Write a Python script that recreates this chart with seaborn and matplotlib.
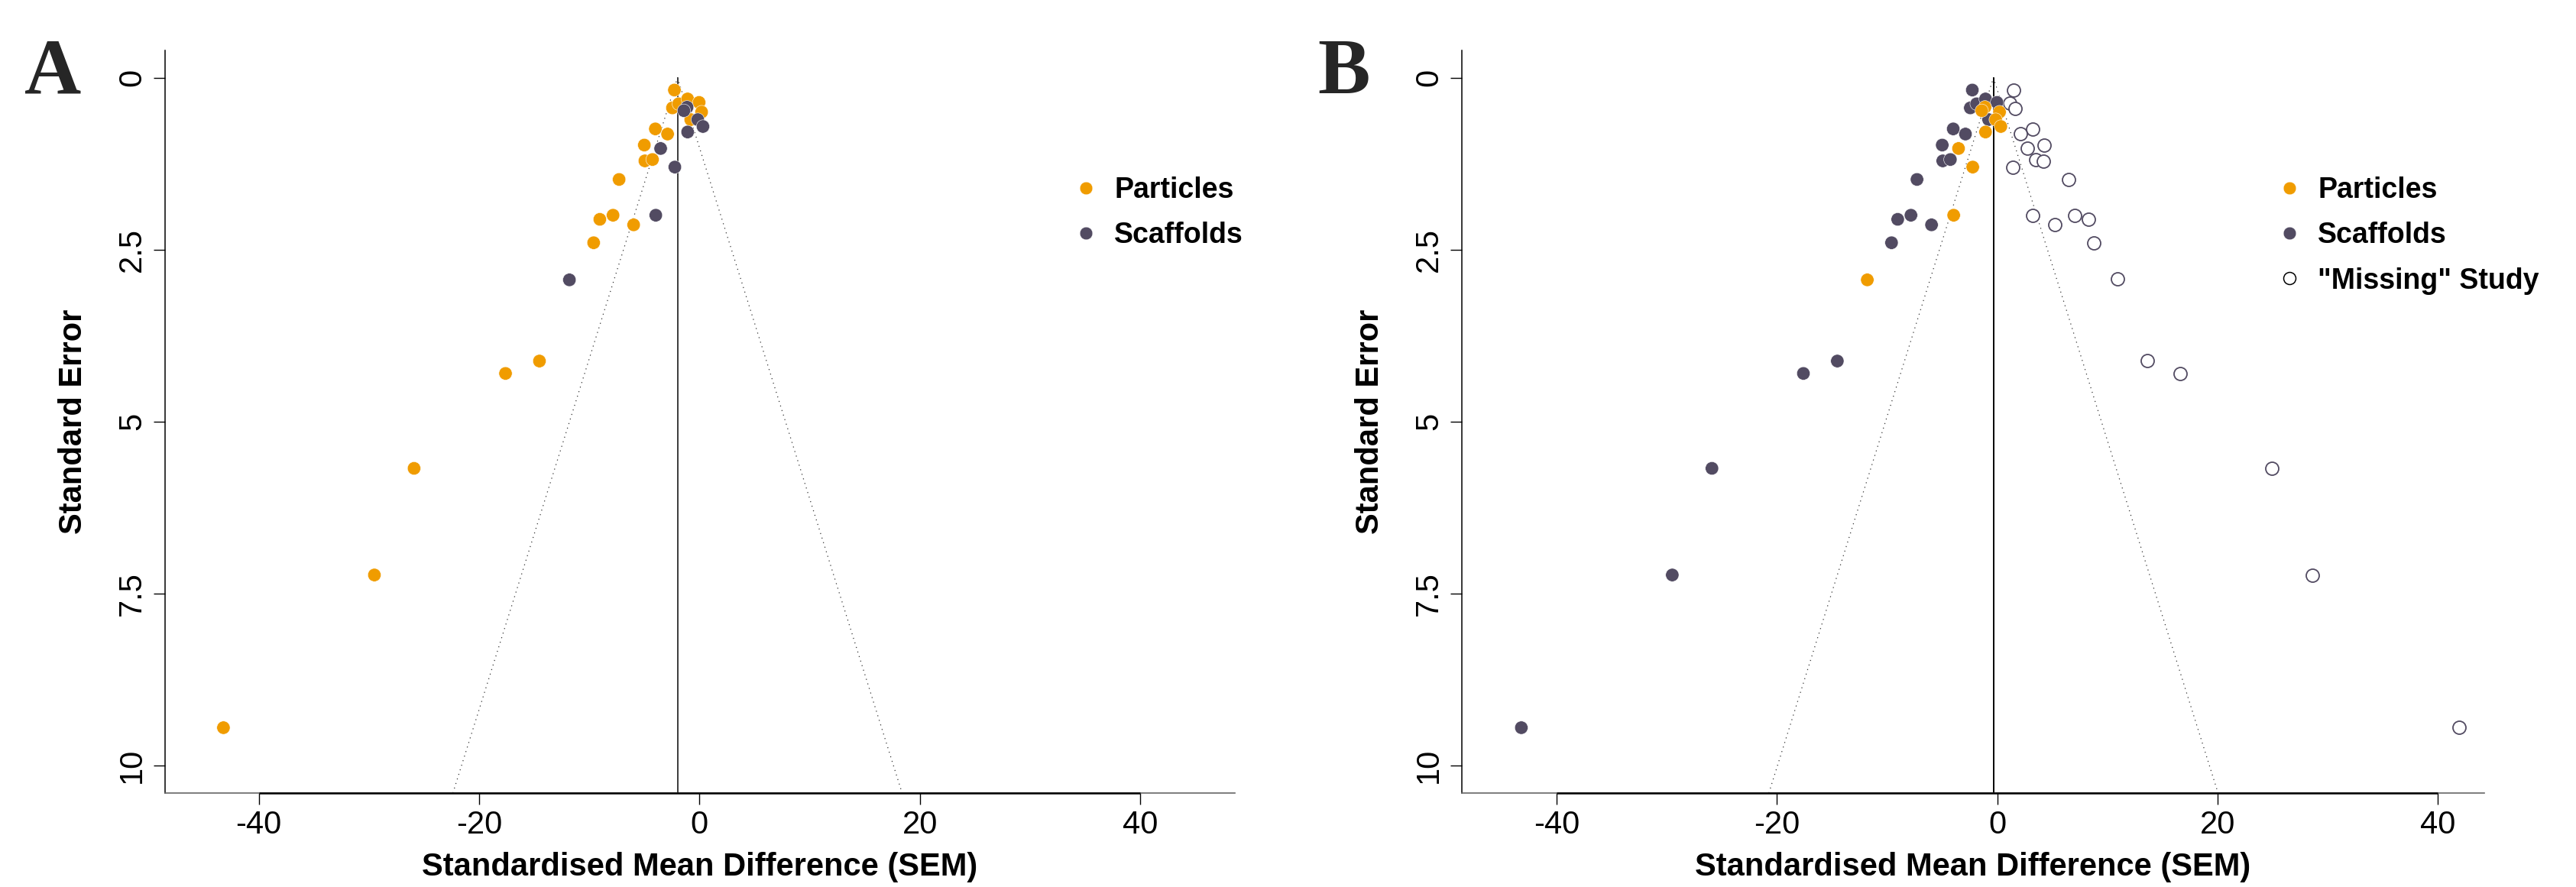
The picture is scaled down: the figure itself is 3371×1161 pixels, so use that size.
import numpy as np
import pandas as pd
import matplotlib
matplotlib.use("Agg")
import matplotlib.pyplot as plt
import seaborn as sns
from matplotlib.lines import Line2D

# ---------------- data ----------------
smd = [-2.27, -2.45, -1.88, -1.07, -0.03, 0.20, -0.79, -4.00, -2.89, -5.00, -4.95,
       -4.26, -7.29, -7.84, -9.04, -5.97, -9.60, -14.52, -17.60, -25.90, -29.50, -43.20,
       -1.12, -1.41, -0.15, 0.32, -1.07, -3.52, -2.23, -3.96, -11.80]
se = [0.18, 0.44, 0.38, 0.31, 0.36, 0.50, 0.61, 0.745, 0.82, 0.98, 1.21,
      1.19, 1.48, 2.00, 2.06, 2.14, 2.40, 4.12, 4.30, 5.68, 7.23, 9.45,
      0.43, 0.48, 0.61, 0.71, 0.79, 1.03, 1.30, 2.00, 2.94]
group_A = (["Particles"] * 22) + (["Scaffolds"] * 9)
group_B = (["Scaffolds"] * 5 + ["Particles"] + ["Scaffolds"] * 16) + (["Particles"] * 9)

smd_missing = [1.48, 1.12, 1.62, 3.24, 2.11, 4.24, 2.73, 3.50, 4.17, 1.44, 6.48,
               3.18, 7.03, 8.26, 5.19, 8.79, 10.90, 13.60, 16.60, 24.90, 28.60, 41.90]
se_missing = [0.18, 0.37, 0.45, 0.745, 0.82, 0.98, 1.03, 1.19, 1.21, 1.30, 1.48,
              2.00, 2.00, 2.06, 2.14, 2.40, 2.92, 4.11, 4.30, 5.68, 7.23, 9.45]

center_A = -1.99
center_B = -0.35

categories = ["Particles", "Scaffolds"]
missing_label = '"Missing" Study'
x_ticks = [-40, -20, 0, 20, 40]
y_ticks = [0, 2.5, 5, 7.5, 10]
y_ticklabels = ["0", "2.5", "5", "7.5", "10"]
x_label = "Standardised Mean Difference (SEM)"
y_label = "Standard Error"

# ---------------- style ----------------
ORANGE = "#F09C00"
DARK = "#524B62"
palette = {"Particles": ORANGE, "Scaffolds": DARK}

sns.set_theme(style="white")
plt.rcParams["font.family"] = ["Liberation Sans", "DejaVu Sans"]
plt.rcParams["axes.unicode_minus"] = False

W, H = 3371, 1161
fig = plt.figure(figsize=(W / 100, H / 100), dpi=100)

top_px, bot_px = 65.6, 1038.0
axA = fig.add_axes([216 / W, 1 - bot_px / H, 1400 / W, (bot_px - top_px) / H])
axB = fig.add_axes([1913 / W, 1 - bot_px / H, 1338 / W, (bot_px - top_px) / H])

ylim = (10.4, -0.4)


def draw_panel(ax, group, center, xlim, width_px, vline_color, missing=False):
    ax.set_xlim(*xlim)
    ax.set_ylim(*ylim)
    se_bot = ylim[0]
    # funnel
    ax.plot([center - 1.96 * se_bot, center, center + 1.96 * se_bot], [se_bot, 0, se_bot],
            color="#333333", lw=0.9, linestyle=(0, (1, 4)), zorder=1)
    ax.plot([center, center], [0, se_bot], color=vline_color, lw=1.4, zorder=1)
    if missing:
        dfm = pd.DataFrame({"smd": smd_missing, "se": se_missing})
        sns.scatterplot(data=dfm, x="smd", y="se", ax=ax, s=150, color="white",
                        edgecolor=DARK, linewidth=1.3, legend=False, zorder=2)
    df = pd.DataFrame({"smd": smd, "se": se, "group": group})
    sns.scatterplot(data=df, x="smd", y="se", hue="group", hue_order=categories,
                    palette=palette, s=156, edgecolor="white", linewidth=0.4,
                    ax=ax, legend=False, zorder=3)
    # axes styling
    for s in ["top", "right"]:
        ax.spines[s].set_visible(False)
    ax.spines["left"].set_color("black")
    ax.spines["left"].set_linewidth(1.1)
    ax.spines["bottom"].set_color("#666666")
    ax.spines["bottom"].set_linewidth(1.2)
    ax.plot([x_ticks[0], x_ticks[-1]], [ylim[0], ylim[0]], color="black", lw=1.8,
            clip_on=False, zorder=5, solid_capstyle="butt")
    ax.set_xticks(x_ticks)
    ax.set_xticklabels([str(t) for t in x_ticks])
    ax.set_yticks(y_ticks)
    ax.set_yticklabels(y_ticklabels, rotation=90, va="center")
    ax.tick_params(axis="both", direction="out", length=10.5, width=1.0, color="black",
                   labelsize=30, labelcolor="black", bottom=True, left=True)
    ax.tick_params(axis="x", pad=5)
    ax.tick_params(axis="y", pad=6)
    ax.set_xlabel(x_label, fontsize=30, fontweight="bold", color="black")
    ax.set_ylabel(y_label, fontsize=30, fontweight="bold", color="black")
    ax.xaxis.label.set_va("center")
    ax.xaxis.set_label_coords(0.5, -(1135 - bot_px) / (bot_px - top_px))
    ax.yaxis.label.set_va("center")
    ax.yaxis.label.set_ha("center")
    ax.yaxis.set_label_coords(-120 / width_px, 0.5)
    ax.grid(False)


draw_panel(axA, group_A, center_A, (-48.5, 48.6), 1400, "#3a3a3a")
draw_panel(axB, group_B, center_B, (-48.6, 44.2), 1338, "black", missing=True)


def make_legend(ax, x_px, y_px, with_missing):
    handles = [Line2D([], [], ls="", marker="o", markersize=12, markerfacecolor=palette[c],
                      markeredgecolor="white", markeredgewidth=0.3) for c in categories]
    labels = list(categories)
    if with_missing:
        handles.append(Line2D([], [], ls="", marker="o", markersize=11.5, markerfacecolor="white",
                              markeredgecolor="black", markeredgewidth=1.1))
        labels.append(missing_label)
    leg = ax.legend(handles, labels, loc="upper left",
                    bbox_to_anchor=(x_px / W, 1 - y_px / H), bbox_transform=fig.transFigure,
                    frameon=False, fontsize=27, handlelength=1.0, handletextpad=0.5,
                    borderpad=0, borderaxespad=0, labelspacing=0.62)
    for t in leg.get_texts():
        t.set_fontweight("bold")
        t.set_color("black")


make_legend(axA, 1402, 231, False)
make_legend(axB, 2977, 231, True)

fig.text(32 / W, 1 - 122 / H, "A", fontsize=74, fontweight="bold",
         family=["Liberation Serif", "DejaVu Serif"], ha="left", va="baseline")
fig.text(1724 / W, 1 - 122 / H, "B", fontsize=74, fontweight="bold",
         family=["Liberation Serif", "DejaVu Serif"], ha="left", va="baseline")

fig.savefig("out.png", dpi=100)
